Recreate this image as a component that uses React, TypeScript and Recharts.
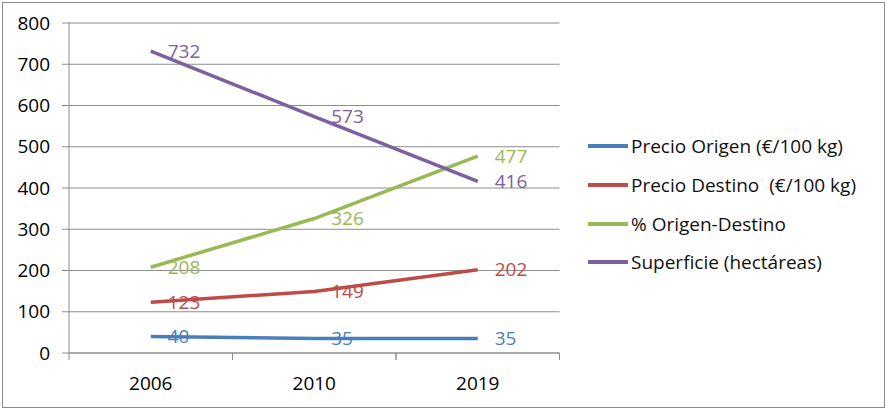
import React from "react"
import { CartesianGrid, Legend, LabelList, Line, LineChart, XAxis, YAxis } from "recharts"

const years = ["2006", "2010", "2019"]
const precioOrigen = [40, 35, 35]
const precioDestino = [123, 149, 202]
const origenDestino = [208, 326, 477]
const superficie = [732, 573, 416]
const yTicks = [0, 100, 200, 300, 400, 500, 600, 700, 800]

const series = [
  { key: "origen", name: "Precio Origen (€/100 kg)", color: "#4a7ebb", values: precioOrigen },
  { key: "destino", name: "Precio Destino  (€/100 kg)", color: "#be4b48", values: precioDestino },
  { key: "pct", name: "% Origen-Destino", color: "#98b954", values: origenDestino },
  { key: "sup", name: "Superficie (hectáreas)", color: "#7d60a0", values: superficie },
]

const data = years.map((year, i) => {
  const row: any = { year }
  series.forEach((s) => (row[s.key] = s.values[i]))
  return row
})

const FONT = "'Open Sans', sans-serif"
const FS = 19
const GRID = "#8c8c8c"
const HALF_BAND = 81.75

const XTick = ({ x, y, payload }: any) => (
  <g>
    <line x1={x - HALF_BAND} x2={x - HALF_BAND} y1={y} y2={y + 7} stroke={GRID} />
    <line x1={x + HALF_BAND} x2={x + HALF_BAND} y1={y} y2={y + 7} stroke={GRID} />
    <text x={x} y={y + 37} textAnchor="middle" fontSize={FS} fontFamily={FONT} fill="#000">
      {payload.value}
    </text>
  </g>
)

const LegendBox = () => (
  <div style={{ fontFamily: FONT, fontSize: FS, color: "#111" }}>
    {series.map((s) => (
      <div key={s.key} style={{ display: "flex", alignItems: "center", height: 38.7, whiteSpace: "pre" }}>
        <span style={{ display: "inline-block", width: 40, height: 4, background: s.color, marginRight: 3 }} />
        {s.name}
      </div>
    ))}
  </div>
)

export default function App() {
  return (
    <div style={{ position: "absolute", left: 0, top: 0, width: 889, height: 411, background: "#fff" }}>
      <div
        style={{
          position: "absolute",
          left: 2,
          top: 2,
          width: 881,
          height: 404,
          border: "1px solid #8c8c8c",
        }}
      />
      <div style={{ position: "absolute", left: 0, top: 0 }}>
        <LineChart width={889} height={411} data={data} margin={{ top: 23, right: 329.5, bottom: 18, left: 9 }}>
          <CartesianGrid vertical={false} stroke={GRID} strokeWidth={1} />
          <XAxis
            dataKey="year"
            padding={{ left: HALF_BAND, right: HALF_BAND }}
            height={40}
            tickSize={0}
            tickMargin={0}
            tickLine={false}
            axisLine={{ stroke: GRID }}
            tick={<XTick />}
            interval={0}
          />
          <YAxis
            width={60}
            domain={[0, 800]}
            ticks={yTicks}
            interval={0}
            tickSize={7}
            tickMargin={12}
            axisLine={{ stroke: GRID }}
            tickLine={{ stroke: GRID }}
            tick={{ fontSize: FS, fontFamily: FONT, fill: "#000" }}
          />
          <Legend
            layout="horizontal"
            verticalAlign="middle"
            content={<LegendBox />}
            wrapperStyle={{ position: "absolute", left: 588, top: 127, width: 300 }}
          />
          {series.map((s) => (
            <Line
              key={s.key}
              dataKey={s.key}
              name={s.name}
              stroke={s.color}
              strokeWidth={3.5}
              dot={false}
              isAnimationActive={false}
            >
              <LabelList
                dataKey={s.key}
                position="right"
                offset={17}
                fill={s.color}
                fontSize={FS}
                fontFamily={FONT}
              />
            </Line>
          ))}
        </LineChart>
      </div>
    </div>
  )
}
